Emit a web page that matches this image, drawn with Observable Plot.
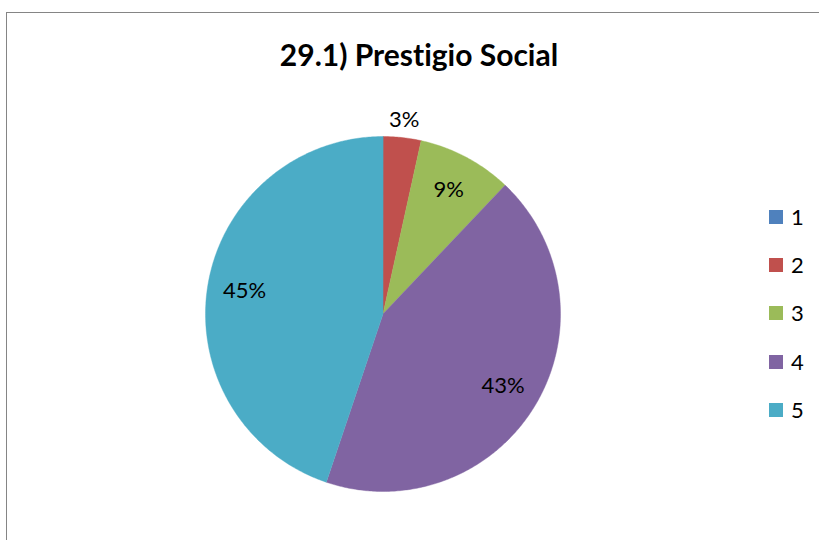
<!DOCTYPE html>
<html>
<head>
<meta charset="utf-8">
<script src="https://cdn.jsdelivr.net/npm/d3@7"></script>
<script src="https://cdn.jsdelivr.net/npm/@observablehq/plot@0.6"></script>
<style>
  html, body { margin: 0; padding: 0; background: #fff; }
  body { position: relative; width: 819px; height: 540px; overflow: hidden; font-family: Lato, "Open Sans", sans-serif; font-variant-ligatures: none; }
  #frame { position: absolute; left: 6px; top: 12px; width: 900px; height: 600px; border: 1.5px solid #858585; box-sizing: border-box; }
  #chart { position: absolute; left: 0; top: 0; }
  #title { position: absolute; left: 0; width: 838px; top: 39px; line-height: 30px; text-align: center; font-weight: bold; font-size: 30px; color: #000; font-variant-ligatures: none; }
  #legend { position: absolute; left: 769px; top: 0; }
  .item { position: absolute; left: 0; display: flex; align-items: center; height: 24px; white-space: nowrap; }
  .sw { width: 14px; height: 14px; margin-right: 8px; }
  .lab { font-size: 22px; line-height: 24px; color: #000; }
</style>
</head>
<body>
<div id="frame"></div>
<div id="chart"></div>
<div id="title"></div>
<div id="legend"></div>
<script>
const categories = ["1", "2", "3", "4", "5"];
const counts = [0, 2, 5, 25, 26];
const colors = ["#4F81BD", "#C0504D", "#9BBB59", "#8064A2", "#4BACC6"];
const titleText = "29.1) Prestigio Social";

const total = d3.sum(counts);
const arcs = d3.pie().sort(null).value(d => d.v)(categories.map((c, i) => ({c, v: counts[i]})));

const pts = [];
for (const a of arcs) {
  if (a.data.v === 0) continue;
  pts.push({c: a.data.c, x: 0, y: 0});
  const n = Math.max(2, Math.ceil((a.endAngle - a.startAngle) / 0.01));
  for (let i = 0; i <= n; i++) {
    const t = a.startAngle + (a.endAngle - a.startAngle) * i / n;
    pts.push({c: a.data.c, x: Math.sin(t), y: Math.cos(t)});
  }
}

const labels = arcs.filter(a => a.data.v > 0).map(a => {
  const m = (a.startAngle + a.endAngle) / 2;
  const share = a.data.v / total;
  const r = share < 0.05 ? 1.1 : 0.79;
  return {x: r * Math.sin(m), y: r * Math.cos(m), text: Math.round(share * 100) + "%"};
});

const chart = Plot.plot({
  width: 819,
  height: 540,
  marginLeft: 205,
  marginRight: 259,
  marginTop: 136,
  marginBottom: 49,
  x: {domain: [-1, 1], axis: null},
  y: {domain: [-1, 1], axis: null},
  color: {domain: categories, range: colors},
  style: {background: "transparent", overflow: "visible"},
  marks: [
    Plot.line(pts, {x: "x", y: "y", z: "c", fill: "c", stroke: "c", strokeWidth: 0.4, curve: "linear-closed"}),
    Plot.text(labels, {x: "x", y: "y", text: "text", fontSize: 22, fontFamily: "Lato, 'Open Sans', sans-serif", fill: "#000"})
  ]
});
document.getElementById("chart").appendChild(chart);
document.getElementById("title").textContent = titleText;

const legend = document.getElementById("legend");
const legendTop = 205;
categories.forEach((c, i) => {
  const item = document.createElement("div");
  item.className = "item";
  item.style.top = (legendTop + i * 48.2) + "px";
  const sw = document.createElement("div");
  sw.className = "sw";
  sw.style.background = colors[i];
  const lab = document.createElement("span");
  lab.className = "lab";
  lab.textContent = c;
  item.appendChild(sw);
  item.appendChild(lab);
  legend.appendChild(item);
});
</script>
</body>
</html>
